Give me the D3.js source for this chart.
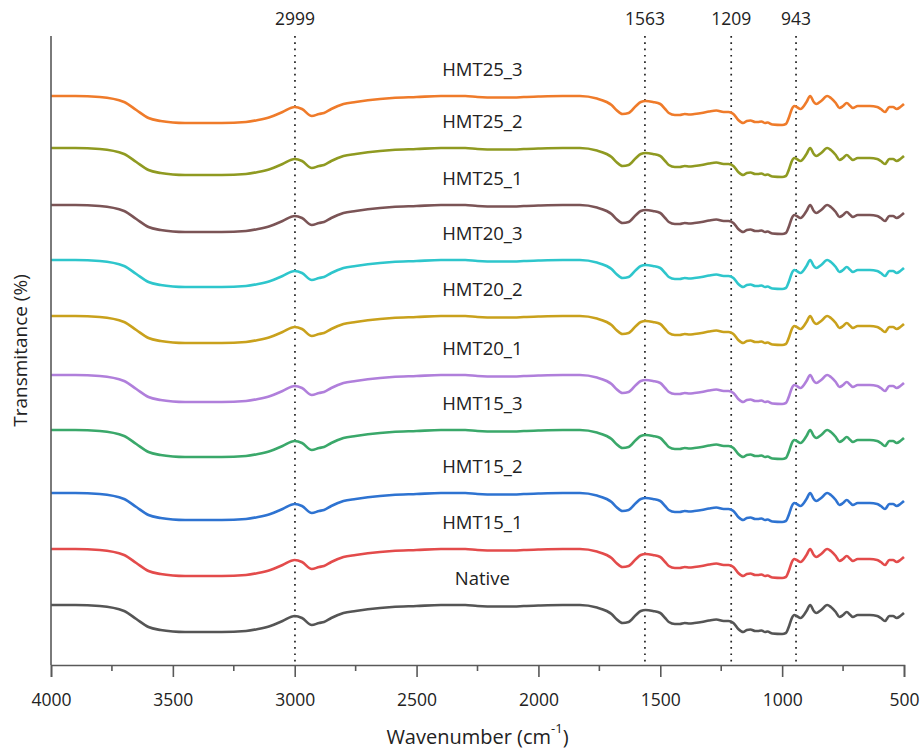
<!DOCTYPE html>
<html>
<head>
<meta charset="utf-8">
<script src="https://cdn.jsdelivr.net/npm/d3@7"></script>
<style>
  body { margin: 0; background: #fff; }
  text { font-family: "Open Sans", "Noto Sans", sans-serif; fill: #222; }
</style>
</head>
<body>
<script>
// wavenumber grid (cm-1) and spectrum depth below the flat 4000 cm-1 level
const wavenumbers = [4000, 3900, 3800, 3700, 3650, 3600, 3550, 3500, 3450, 3300, 3200, 3150, 3100, 3050, 3000,
  2970, 2930, 2900, 2880, 2850, 2800, 2750, 2650, 2600, 2500, 2400, 2300, 2250, 2170, 2100, 2060, 2000, 1900,
  1830, 1760, 1720, 1700, 1680, 1655, 1630, 1600, 1580, 1560, 1530, 1500, 1480, 1465, 1440, 1420, 1400, 1380,
  1360, 1330, 1300, 1270, 1240, 1220, 1200, 1180, 1160, 1145, 1130, 1110, 1100, 1085, 1070, 1060, 1040, 1000,
  985, 970, 960, 950, 940, 925, 900, 885, 870, 860, 840, 815, 800, 780, 765, 750, 735, 720, 710, 690, 670, 640,
  610, 595, 578, 560, 545, 530, 515, 500];
const depth = [0, 0, 1, 6, 14, 22, 25, 26.5, 27, 27, 26, 24, 21, 16, 11,
  13, 20, 18, 17, 13, 8, 6, 3, 2, 1, 0, 0, 1, 1.5, 1.5, 1, 0.5, 0,
  0, 2.5, 6, 9, 14, 18, 17, 10, 6, 5, 6, 8, 13, 17, 19, 19, 18, 18.5,
  18, 17, 15.5, 14.5, 16, 16, 18, 24, 27, 25, 24.5, 26, 26, 25.5, 27, 26.5, 28.5, 29,
  28, 20, 13, 10, 11, 13, 6, 0, 6, 8, 5, 0, 2, 7, 12, 10, 7, 10, 12, 10, 10, 10,
  11, 13, 16, 11, 11, 13, 11, 8];

// samples, top to bottom, and the transmittance level each trace starts at (stacked)
const seriesNames = ["HMT25_3", "HMT25_2", "HMT25_1", "HMT20_3", "HMT20_2", "HMT20_1",
  "HMT15_3", "HMT15_2", "HMT15_1", "Native"];
const seriesLevels = [569, 517, 460, 405, 349, 290, 235, 172, 116, 60];
const seriesColors = ["#ef7b2a", "#8f9a21", "#7b5456", "#2ec6cc", "#c9a11c", "#b07fdb",
  "#3aa86a", "#2e73d1", "#e34b4b", "#555555"];

const peaks = [2999, 1563, 1209, 943];
const xTicks = [4000, 3500, 3000, 2500, 2000, 1500, 1000, 500];

const margin = {top: 36, right: 19, bottom: 86, left: 51};
const W = 923, H = 751;
const width = W - margin.left - margin.right;
const height = H - margin.top - margin.bottom;

const svg = d3.select("body").append("svg")
  .attr("width", W)
  .attr("height", H);

const x = d3.scaleLinear().domain([4000, 500]).range([0, width]);
const y = d3.scaleLinear().domain([0, 629]).range([height, 0]);

const g = svg.append("g")
  .attr("transform", `translate(${margin.left},${margin.top})`);

// peak markers
g.selectAll(".peak")
  .data(peaks)
  .join("line")
  .attr("x1", d => x(d)).attr("x2", d => x(d))
  .attr("y1", 0).attr("y2", height)
  .attr("stroke", "#222")
  .attr("stroke-width", 1.7)
  .attr("stroke-dasharray", "1.7,4.6");

g.selectAll(".peakLabel")
  .data(peaks)
  .join("text")
  .attr("x", d => x(d))
  .attr("y", -18)
  .attr("text-anchor", "middle")
  .attr("dominant-baseline", "central")
  .style("font-size", "17.5px")
  .text(d => d);

// spectra
const line = d3.line()
  .x(d => x(d.w))
  .y(d => y(d.v))
  .curve(d3.curveMonotoneX);

seriesNames.forEach((name, i) => {
  const pts = wavenumbers.map((w, j) => ({w: w, v: seriesLevels[i] - depth[j]}));
  g.append("path")
    .datum(pts)
    .attr("fill", "none")
    .attr("stroke", seriesColors[i])
    .attr("stroke-width", 2.6)
    .attr("stroke-linejoin", "round")
    .attr("d", line);

  g.append("text")
    .attr("x", x(2230))
    .attr("y", y(seriesLevels[i]) - 28)
    .attr("text-anchor", "middle")
    .attr("dominant-baseline", "central")
    .style("font-size", "18.5px")
    .text(name);
});

// axes
const xAxis = g.append("g")
  .attr("transform", `translate(0,${height})`)
  .call(d3.axisBottom(x).tickValues(xTicks).tickSize(12).tickPadding(17).tickFormat(d3.format("d")));
xAxis.select(".domain").attr("stroke", "#595959").attr("stroke-width", 1.6);
xAxis.selectAll(".tick line").attr("stroke", "#595959").attr("stroke-width", 1.6);
xAxis.selectAll(".tick text").style("font-size", "17.5px").attr("fill", "#222");

g.append("g")
  .attr("transform", `translate(0,${height})`)
  .selectAll("line")
  .data(d3.range(3750, 500, -500))
  .join("line")
  .attr("x1", d => x(d)).attr("x2", d => x(d))
  .attr("y1", 0).attr("y2", 6)
  .attr("stroke", "#595959")
  .attr("stroke-width", 1.6);

g.append("line")
  .attr("x1", 0).attr("x2", 0)
  .attr("y1", 0).attr("y2", height)
  .attr("stroke", "#595959")
  .attr("stroke-width", 1.6);

// axis titles
const xt = svg.append("text")
  .attr("x", margin.left + width / 2)
  .attr("y", 736)
  .attr("text-anchor", "middle")
  .attr("dominant-baseline", "central")
  .style("font-size", "20px");
xt.append("tspan").text("Wavenumber (cm");
xt.append("tspan").attr("dy", -8).style("font-size", "13px").text("-1");
xt.append("tspan").attr("dy", 8).text(")");

svg.append("text")
  .attr("transform", `translate(20,${margin.top + height / 2}) rotate(-90)`)
  .attr("text-anchor", "middle")
  .attr("dominant-baseline", "central")
  .style("font-size", "19px")
  .text("Transmitance (%)");
</script>
</body>
</html>
